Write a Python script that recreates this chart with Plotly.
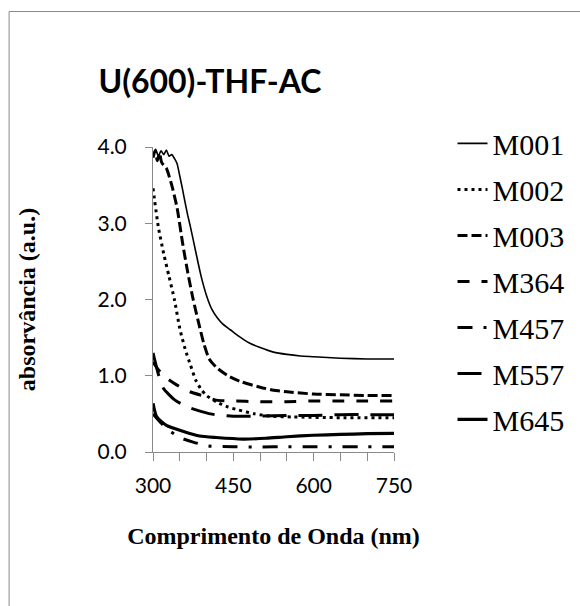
import plotly.graph_objects as go

# UV-Vis absorbance spectra, U(600)-THF-AC series
wl_m001 = [300, 305, 310, 315, 320, 325, 330, 335, 340, 345, 350, 355, 360, 365, 370,
           380, 390, 400, 410, 420, 430, 445, 460, 480, 500, 525, 550, 575, 600, 650, 700, 750]
abs_m001 = [3.90, 3.97, 3.88, 3.95, 3.90, 3.96, 3.88, 3.90, 3.85, 3.78, 3.62, 3.45, 3.27, 3.10, 2.95,
            2.62, 2.30, 2.05, 1.87, 1.76, 1.68, 1.60, 1.52, 1.43, 1.37, 1.31, 1.28, 1.26, 1.25, 1.23, 1.22, 1.22]

wl_m002 = [300, 310, 320, 330, 340, 350, 360, 370, 380, 390, 400, 420, 440, 460, 490, 520, 560, 650, 750]
abs_m002 = [3.46, 2.95, 2.60, 2.30, 2.00, 1.62, 1.35, 1.14, 0.94, 0.82, 0.74, 0.65, 0.59, 0.55, 0.50,
            0.47, 0.46, 0.45, 0.45]

wl_m003 = [300, 304, 308, 312, 316, 320, 325, 335, 345, 355, 365, 375, 385, 395, 405, 420, 440,
           465, 500, 525, 550, 600, 650, 700, 750]
abs_m003 = [3.86, 3.95, 3.82, 3.92, 3.80, 3.76, 3.72, 3.50, 3.20, 2.75, 2.35, 2.00, 1.70, 1.42, 1.22,
            1.10, 1.00, 0.92, 0.85, 0.81, 0.79, 0.76, 0.75, 0.74, 0.74]

wl_m364 = [300, 310, 325, 344, 369, 397, 418, 446, 500, 550, 600, 650, 700, 750]
abs_m364 = [1.18, 1.08, 0.97, 0.88, 0.79, 0.73, 0.68, 0.67, 0.66, 0.66, 0.67, 0.67, 0.67, 0.67]

wl_m457 = [300, 315, 327, 350, 375, 403, 450, 500, 550, 600, 650, 700, 750]
abs_m457 = [0.50, 0.38, 0.30, 0.19, 0.13, 0.08, 0.07, 0.065, 0.07, 0.07, 0.07, 0.07, 0.07]

wl_m557 = [300, 310, 319, 341, 365, 391, 415, 450, 500, 550, 600, 650, 700, 750]
abs_m557 = [1.30, 1.02, 0.84, 0.68, 0.59, 0.53, 0.49, 0.47, 0.47, 0.48, 0.48, 0.49, 0.49, 0.49]

wl_m645 = [300, 307, 325, 357, 387, 418, 468, 511, 550, 600, 650, 700, 750]
abs_m645 = [0.64, 0.46, 0.35, 0.27, 0.21, 0.19, 0.17, 0.18, 0.20, 0.22, 0.23, 0.24, 0.245]

x_ticks = [300, 350, 400, 450, 500, 550, 600, 650, 700, 750]
x_tick_text = ["300", "", "", "450", "", "", "600", "", "", "750"]
y_ticks = [0, 1, 2, 3, 4]

series = [
    ("M001", wl_m001, abs_m001, dict(width=1.6, dash="solid")),
    ("M002", wl_m002, abs_m002, dict(width=3, dash="3px,4px")),
    ("M003", wl_m003, abs_m003, dict(width=3, dash="10px,4px")),
    ("M364", wl_m364, abs_m364, dict(width=3, dash="12px,12px")),
    ("M457", wl_m457, abs_m457, dict(width=3, dash="15px,11px,3px,11px")),
    ("M557", wl_m557, abs_m557, dict(width=3, dash="24px,12px")),
    ("M645", wl_m645, abs_m645, dict(width=3.2, dash="solid")),
]

fig = go.Figure()
for name, xs, ys, style in series:
    fig.add_trace(go.Scatter(
        x=xs, y=ys, mode="lines", name=name, legendgroup=name,
        line=dict(color="black", shape="spline", smoothing=0.6, **style),
    ))

axis_gray = "#898989"
serif = "Liberation Serif, Times New Roman, serif"
sans = "Lato, Open Sans, sans-serif"

fig.update_layout(
    width=580, height=606,
    margin=dict(l=153, r=185, t=147, b=154),
    paper_bgcolor="white", plot_bgcolor="white",
    title=dict(text="<b>U(600)-THF-AC</b>", x=0.362, xanchor="center",
               y=0.865, yanchor="middle",
               font=dict(family=sans, size=32, color="black")),
    legend=dict(x=1.2376, xanchor="left", y=1.097, yanchor="top",
                font=dict(family=serif, size=30, color="black"),
                tracegroupgap=4, bgcolor="rgba(0,0,0,0)", maxheight=600),
    shapes=[dict(type="rect", xref="paper", yref="paper",
                 x0=(8.5 - 153) / 242, x1=1.9, y0=-0.6, y1=(452 - 11.5) / 305,
                 line=dict(color="#8a8a8a", width=1), fillcolor="rgba(0,0,0,0)",
                 layer="below")],
)

fig.update_xaxes(
    range=[300, 750], tickvals=x_ticks, ticktext=x_tick_text,
    ticks="outside", ticklen=8, tickcolor=axis_gray, ticklabelstandoff=7,
    showline=True, linecolor=axis_gray, linewidth=1, showgrid=False, zeroline=False,
    tickfont=dict(family=sans, size=21, color="black"),
    title=dict(text="<b>Comprimento de Onda (nm)</b>", standoff=30,
               font=dict(family=serif, size=24, color="black")),
)
fig.update_yaxes(
    range=[0, 4], tickvals=y_ticks, tickformat=".1f",
    ticks="outside", ticklen=7, tickcolor=axis_gray, ticklabelstandoff=14,
    showline=True, linecolor=axis_gray, linewidth=1, showgrid=False, zeroline=False,
    tickfont=dict(family=sans, size=21, color="black"),
    title=dict(text="<b>absorvância (a.u.)</b>", standoff=55,
               font=dict(family=serif, size=24, color="black")),
)

fig.write_html("out.html")
